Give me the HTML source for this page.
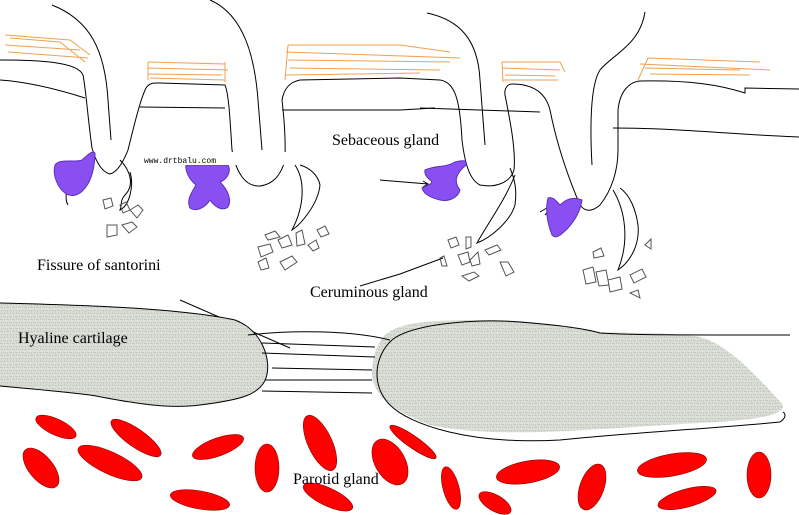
<!DOCTYPE html>
<html><head><style>
html,body{margin:0;padding:0;background:#fff;}
svg{display:block;}
.lbl{font-family:"Liberation Serif","Times New Roman","DejaVu Serif",serif;font-size:16px;}
</style></head><body>
<svg width="799" height="515" viewBox="0 0 799 515" xmlns="http://www.w3.org/2000/svg">
<defs>
<pattern id="dots" width="6" height="6" patternUnits="userSpaceOnUse">
<rect width="6" height="6" fill="#dde1da"/>
<path d="M0 1 L3 2 M3 4 L6 5 M1 4 L2 6 M4 0 L5 2" stroke="#b8bfb5" stroke-width="0.8"/>
</pattern>
</defs>
<rect width="799" height="515" fill="#fff"/>

<g stroke="#f0a050" stroke-width="1" fill="none">
<path d="M5 35 L70 40 L90 55 M5 45 L80 50 M8 52 L88 58 M10 38 L60 42 L85 62"/>
<path d="M148 62 L225 64 M148 68 L228 70 M148 74 L222 75 M150 78 L225 80 M148 62 L148 80 M225 62 L225 82"/>
<path d="M288 45 L400 45 L450 52 M286 52 L460 58 M288 60 L450 62 M290 68 L440 70 M285 75 L420 73 M288 45 L285 80"/>
<path d="M502 62 L560 62 L565 72 M502 68 L560 70 M505 75 L555 76 M503 80 L558 80 M502 62 L503 82"/>
<path d="M648 58 L760 62 M640 64 L770 70 M645 68 L740 70 M650 74 L750 75 M648 58 L638 80"/>
</g>

<g stroke="#000" stroke-width="1" fill="none">
<path d="M0 60 C40 60 78 62 83 75 C86 90 88 120 92 148 C96 162 102 172 110 174 C118 172 124 160 128 150 C133 130 140 100 146 88 C150 82 155 83 160 83 L225 85 C229 95 230 120 232 150 C236 172 245 187 260 186 C275 184 282 172 285 160 C286 130 283 110 282 100 C284 88 290 82 300 80 L400 78 L440 80 C455 82 460 100 462 140 C465 165 470 180 480 185 C495 188 510 183 514 170 C516 150 510 120 505 95 C504 88 508 84 512 84 C530 84 545 90 550 110 C556 140 565 170 580 205 C585 212 592 212 600 205 C612 190 618 170 618 150 L618 110 C620 90 630 82 640 81 C690 80 720 85 745 93 L745 88 L799 89"/>
<path d="M0 80 C30 82 60 90 85 98"/>
<path d="M140 107 L225 108"/>
<path d="M282 110 L400 110 L435 108 M420 108 L540 112"/>
<path d="M613 128 C680 128 740 135 799 137"/>
<path d="M52 5 C90 20 105 50 108 100 L111 140"/>
<path d="M210 0 C245 15 255 60 258 100 L262 150"/>
<path d="M427 13 C460 20 478 40 480 80 L485 145"/>
<path d="M645 12 C640 45 612 55 600 70 C590 85 590 130 592 165"/>
<path d="M120 160 C130 170 135 185 125 195 C120 200 122 205 120 210 C130 205 134 185 130 172"/>
<path d="M295 165 C305 180 305 205 292 230 C300 225 318 205 320 185 C318 175 310 168 300 165"/>
<path d="M515 175 C505 200 490 220 477 243 C490 238 510 222 515 205 C517 190 515 180 510 168"/>
<path d="M613 190 C625 210 630 240 618 270 C630 262 640 245 638 225 C636 210 630 195 620 188"/>
<path d="M72 180 C65 190 65 200 68 205"/>
<path d="M380 180 L428 184 M423 181 L428 184 L423 187"/>
<path d="M443 258 L400 274 L360 286"/>
<path d="M540 212 L552 205 M545 215 L552 207"/>
<path d="M180 300 L290 348"/>
</g>

<g stroke="#555" stroke-width="1" fill="none">
<path d="M103 200 l8 -2 l2 8 l-8 3 z M120 205 l6 -3 l4 8 l-7 3 z M130 210 l8 -5 l5 5 l-6 8 z M107 225 l10 0 l0 10 l-10 2 z M122 225 l10 -3 l5 5 l-8 6 z"/>
<path d="M265 235 l10 -4 l5 6 l-12 3 z M258 247 l12 -3 l3 8 l-12 5 z M278 240 l10 -5 l4 10 l-10 3 z M258 262 l8 -4 l3 10 l-8 2 z M280 262 l12 -6 l5 6 l-12 8 z M296 233 l6 -3 l3 14 l-8 2 z M308 245 l8 -5 l3 8 l-6 3 z M317 230 l8 -4 l4 8 l-8 3 z"/>
<path d="M448 240 l8 -3 l3 8 l-8 3 z M466 237 l5 0 l0 10 l-5 2 z M458 255 l10 -3 l2 10 l-8 3 z M470 260 l8 -8 l2 12 l-8 2 z M485 250 l12 -5 l4 5 l-12 5 z M500 262 l8 0 l6 10 l-8 4 z M440 258 l4 -2 l3 10 l-5 0 z M462 276 l12 -4 l5 4 l-10 5 z"/>
<path d="M593 252 l8 -4 l3 8 l-10 2 z M583 270 l10 -3 l3 15 l-10 2 z M596 272 l10 -2 l3 15 l-10 1 z M608 280 l12 -3 l2 12 l-12 3 z M630 275 l12 -6 l4 8 l-12 6 z M645 245 l6 -6 l0 10 z M630 293 l8 -3 l2 8 z"/>
</g>

<g fill="#8a4ff0" stroke="#5a2fc0" stroke-width="1">
<path d="M55 165 C60 158 75 163 82 160 C88 155 92 150 95 153 C95 165 92 180 85 188 C80 195 72 198 65 193 C58 188 52 175 55 165 Z"/>
<path d="M186 165 L228 165 C232 172 226 180 220 182 C228 190 232 200 228 207 C222 212 214 206 210 200 C205 208 196 212 190 208 C186 200 192 192 196 185 C190 180 185 172 186 165 Z"/>
<path d="M425 170 C435 165 445 168 455 162 C462 160 468 160 466 165 C458 172 452 180 460 190 C458 198 448 202 440 200 C432 198 424 195 422 188 C428 185 435 183 430 180 C428 178 424 175 425 170 Z"/>
<path d="M548 198 C553 196 557 202 560 205 C565 200 572 196 582 200 C580 212 575 220 568 228 C562 234 556 240 552 235 C547 222 545 210 548 198 Z"/>
</g>

<rect x="143" y="152" width="145" height="13" fill="#fff"/>
<text x="144" y="163" font-family="'Liberation Mono', monospace" font-size="8">www.drtbalu.com</text>

<path d="M0 303 C80 305 180 308 235 320 C262 330 272 360 266 378 C260 395 240 400 200 405 C160 410 120 400 90 395 C50 390 20 388 0 386 Z" fill="url(#dots)"/>
<path d="M385 335 C400 322 430 320 480 320 C540 320 580 328 600 332 C640 333 680 333 700 337 C730 345 760 380 783 405 C784 415 760 420 700 423 C600 428 500 440 430 425 C395 412 370 395 372 370 C373 355 378 342 385 335 Z" fill="url(#dots)"/>
<g stroke="#000" stroke-width="1" fill="none">
<path d="M0 303 C80 305 180 308 235 320 C262 330 272 360 266 378 C260 395 240 400 200 405 C160 410 120 400 90 395 C50 390 20 388 0 386"/>
<path d="M392 340 C375 355 370 385 390 405 C410 425 470 445 560 440 C640 432 720 428 780 422 C786 418 786 414 783 412"/>
<path d="M392 340 C410 325 470 318 520 322 C570 326 590 330 600 333 C630 335 680 335 790 335"/>
<path d="M248 335 C290 330 350 330 390 340 M262 343 L375 347 M262 353 L375 357 M272 368 L372 370 M265 380 L372 380 M262 391 L372 393"/>
</g>

<g fill="#f00" stroke="#800" stroke-width="0.6">
<ellipse cx="56" cy="427" rx="22" ry="8" transform="rotate(25 56 427)"/>
<ellipse cx="136" cy="438" rx="30" ry="9" transform="rotate(35 136 438)"/>
<ellipse cx="41" cy="468" rx="24" ry="12" transform="rotate(50 41 468)"/>
<ellipse cx="110" cy="463" rx="35" ry="11" transform="rotate(25 110 463)"/>
<ellipse cx="218" cy="447" rx="27" ry="9" transform="rotate(-20 218 447)"/>
<ellipse cx="267" cy="468" rx="12" ry="24"/>
<ellipse cx="320" cy="443" rx="12" ry="30" transform="rotate(-25 320 443)"/>
<ellipse cx="390" cy="462" rx="15" ry="25" transform="rotate(-30 390 462)"/>
<ellipse cx="413" cy="442" rx="28" ry="6" transform="rotate(35 413 442)"/>
<ellipse cx="200" cy="500" rx="30" ry="9" transform="rotate(10 200 500)"/>
<ellipse cx="328" cy="497" rx="27" ry="9" transform="rotate(25 328 497)"/>
<ellipse cx="451" cy="488" rx="8" ry="22" transform="rotate(-15 451 488)"/>
<ellipse cx="495" cy="503" rx="18" ry="8" transform="rotate(30 495 503)"/>
<ellipse cx="528" cy="472" rx="32" ry="11" transform="rotate(-10 528 472)"/>
<ellipse cx="592" cy="487" rx="12" ry="24" transform="rotate(20 592 487)"/>
<ellipse cx="672" cy="465" rx="35" ry="11" transform="rotate(-10 672 465)"/>
<ellipse cx="687" cy="498" rx="30" ry="9" transform="rotate(-15 687 498)"/>
<ellipse cx="759" cy="475" rx="12" ry="23"/>
</g>

<text class="lbl" x="332" y="145">Sebaceous gland</text>
<text class="lbl" x="37" y="270">Fissure of santorini</text>
<text class="lbl" x="310" y="297">Ceruminous gland</text>
<text class="lbl" x="18" y="343">Hyaline cartilage</text>
<text class="lbl" x="293" y="484">Parotid gland</text>
</svg>
</body></html>
